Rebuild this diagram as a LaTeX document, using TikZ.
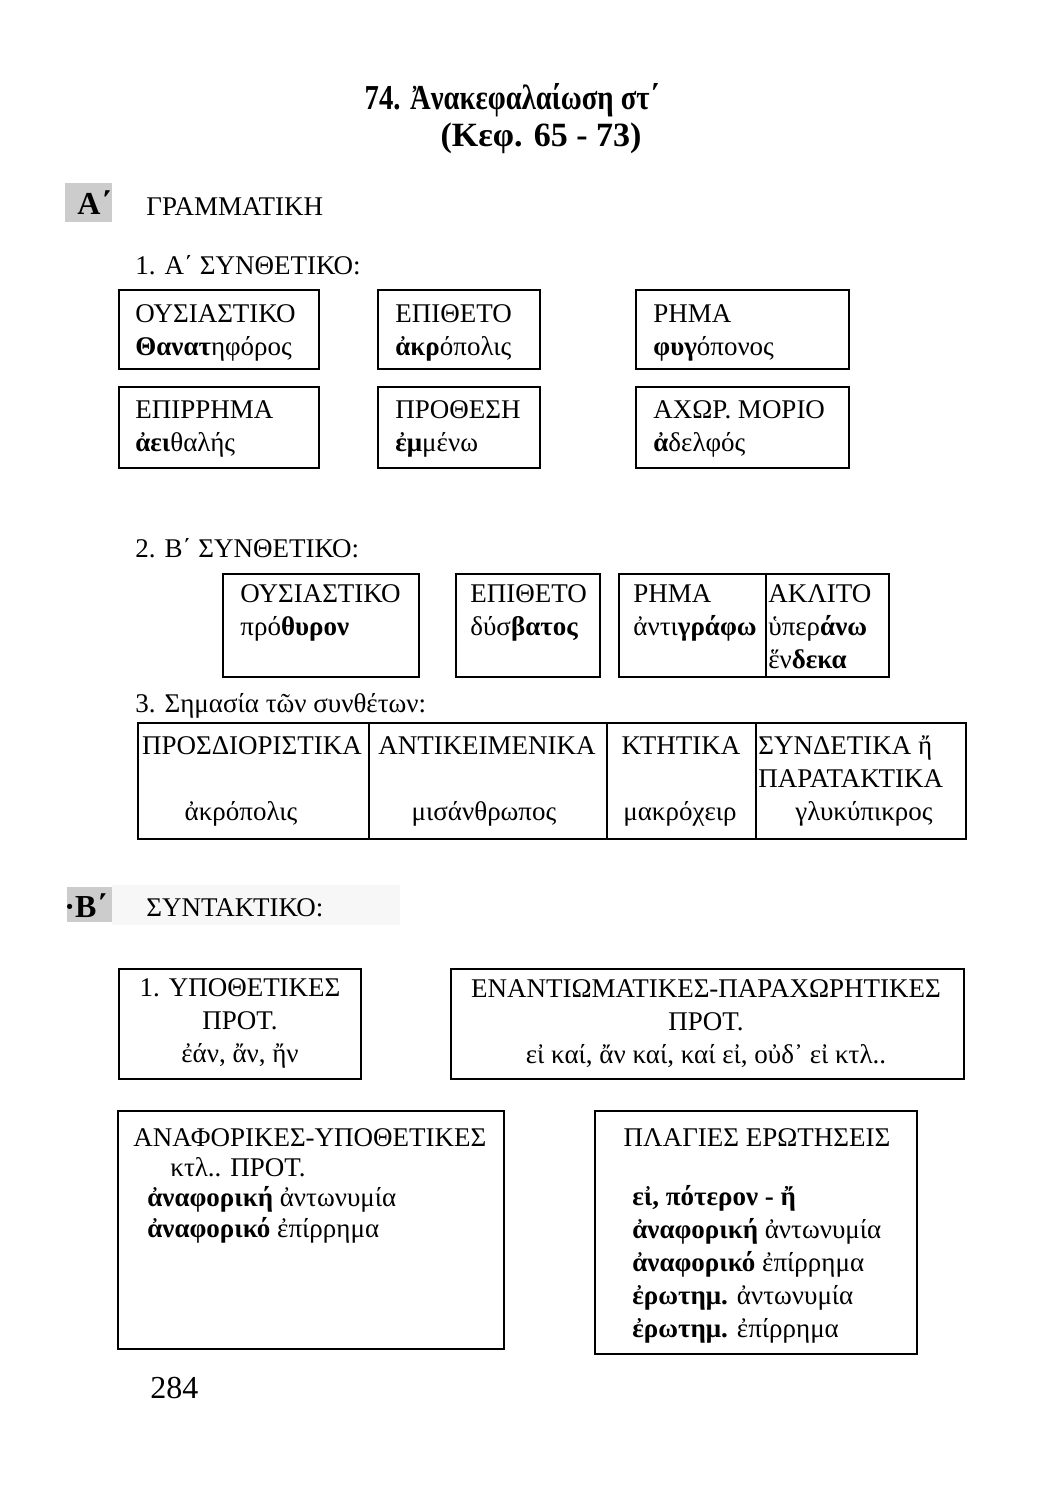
\documentclass[tikz,border=0pt]{standalone}
\usepackage{fontspec}
\setmainfont{Liberation Serif}
\newfontfamily\titlefont[FakeStretch=0.82]{Liberation Serif}
\usetikzlibrary{positioning}

\begin{document}
\begin{tikzpicture}[x=0.5pt,y=-0.5pt,
  font=\fontsize{13.5}{16.5}\selectfont,
  frame/.style={draw, line width=1pt, anchor=north west, inner sep=0pt},
  txt/.style={anchor=base west, align=left, inner sep=0pt},
  ctxt/.style={anchor=base, align=center, inner sep=0pt},
  head/.style={font=\titlefont\bfseries\fontsize{17.5}{19}\selectfont, anchor=base, inner sep=0pt},
  tag/.style={fill=black!20, anchor=north west, inner sep=0pt}]
\fill[white] (0,0) rectangle (1054,1500);
\useasboundingbox (0,0) rectangle (1054,1500);

% title (multi-line nodes below sit on the baseline of their last line)
\node[head] (ttl) at (512,109) {74. Ἀνακεφαλαίωση στ΄};
\node[head, font=\bfseries\fontsize{17}{19}\selectfont] (sub) at (541,146) {(Κεφ. 65 - 73)};

% A' grammar
\node[tag, minimum width=23.5pt, minimum height=19.5pt] (tagA) at (65,183) {};
\node[txt, font=\bfseries\fontsize{16}{18}\selectfont] (letA) at (77,214) {Α΄};
\node[txt] (gram) at (146,215) {ΓΡΑΜΜΑΤΙΚΗ};
\node[txt] (sec1) at (135,274) {1. Α΄ ΣΥΝΘΕΤΙΚΟ:};

\node[frame, minimum width=100pt, minimum height=39.5pt] (ous1) at (118,289) {};
\node[frame, minimum width=81pt, minimum height=39.5pt] (epi1) at (377,289) {};
\node[frame, minimum width=106.5pt, minimum height=39.5pt] (rim1) at (635,289) {};
\node[frame, minimum width=100pt, minimum height=40.5pt] (epir) at (118,386) {};
\node[frame, minimum width=81pt, minimum height=40.5pt] (prot) at (377,386) {};
\node[frame, minimum width=106.5pt, minimum height=40.5pt] (axor) at (635,386) {};
\node[txt] (ous1T) at (135,355) {ΟΥΣΙΑΣΤΙΚΟ\\\textbf{Θανατ}ηφόρος};
\node[txt] (epi1T) at (395,355) {ΕΠΙΘΕΤΟ\\\textbf{ἀκρ}όπολις};
\node[txt] (rim1T) at (653,355) {ΡΗΜΑ\\\textbf{φυγ}όπονος};
\node[txt] (epirT) at (135,451) {ΕΠΙΡΡΗΜΑ\\\textbf{ἀει}θαλής};
\node[txt] (protT) at (395,451) {ΠΡΟΘΕΣΗ\\\textbf{ἐμ}μένω};
\node[txt] (axorT) at (653,451) {ΑΧΩΡ. ΜΟΡΙΟ\\\textbf{ἀ}δελφός};

% B' compound part
\node[txt] (sec2) at (135,557) {2. Β΄ ΣΥΝΘΕΤΙΚΟ:};
\node[frame, minimum width=98pt, minimum height=51.5pt] (ous2) at (222,573) {};
\node[frame, minimum width=72pt, minimum height=51.5pt] (epi2) at (455,573) {};
\node[frame, minimum width=73.5pt, minimum height=51.5pt] (rim2) at (618,573) {};
\node[frame, minimum width=61.5pt, minimum height=51.5pt] (akl2) at (765,573) {};
\node[txt] (ous2T) at (240,635) {ΟΥΣΙΑΣΤΙΚΟ\\πρό\textbf{θυρον}};
\node[txt] (epi2T) at (470,635) {ΕΠΙΘΕΤΟ\\δύσ\textbf{βατος}};
\node[txt] (rim2T) at (633,635) {ΡΗΜΑ\\ἀντι\textbf{γράφω}};
\node[txt] (akl2T) at (768,668) {ΑΚΛΙΤΟ\\ὑπερ\textbf{άνω}\\ἕν\textbf{δεκα}};

% meaning table
\node[txt] (sec3) at (135,712) {3. Σημασία τῶν συνθέτων:};
\node[frame, minimum width=115.5pt, minimum height=58pt] (cpro) at (137,722) {};
\node[frame, minimum width=119pt, minimum height=58pt] (cant) at (368,722) {};
\node[frame, minimum width=74.5pt, minimum height=58pt] (ckti) at (606,722) {};
\node[frame, minimum width=105pt, minimum height=58pt] (csyn) at (755,722) {};
\node[ctxt] (cproH) at (252,754) {ΠΡΟΣΔΙΟΡΙΣΤΙΚΑ};
\node[ctxt] (cantH) at (487,754) {ΑΝΤΙΚΕΙΜΕΝΙΚΑ};
\node[ctxt] (cktiH) at (681,754) {ΚΤΗΤΙΚΑ};
\node[txt] (csynH) at (758,787) {ΣΥΝΔΕΤΙΚΑ ἤ\\ΠΑΡΑΤΑΚΤΙΚΑ};
\node[ctxt] (cproW) at (241,820) {ἀκρόπολις};
\node[ctxt] (cantW) at (484,820) {μισάνθρωπος};
\node[ctxt] (cktiW) at (680,820) {μακρόχειρ};
\node[ctxt] (csynW) at (864,820) {γλυκύπικρος};

% B' syntax
\node[tag, minimum width=22.5pt, minimum height=17.5pt] (tagB) at (67,887) {};
\node[fill=black!3, anchor=north west, inner sep=0pt, minimum width=144pt, minimum height=20pt] (band) at (112,885) {};
\node[txt, font=\bfseries\fontsize{16}{18}\selectfont] (letB) at (64,917) {·Β΄};
\node[txt] (synt) at (146,916) {ΣΥΝΤΑΚΤΙΚΟ:};

\node[frame, minimum width=121pt, minimum height=55pt] (ypo) at (118,968) {};
\node[frame, minimum width=256.5pt, minimum height=55pt] (enan) at (450,968) {};
\node[frame, minimum width=193pt, minimum height=119pt] (anaf) at (117,1110) {};
\node[frame, minimum width=161pt, minimum height=121.5pt] (plag) at (594,1110) {};
\node[ctxt] (ypoT) at (240,1062) {1. ΥΠΟΘΕΤΙΚΕΣ\\ΠΡΟΤ.\\ἐάν, ἄν, ἤν};
\node[ctxt] (enanT) at (706,1063) {ΕΝΑΝΤΙΩΜΑΤΙΚΕΣ-ΠΑΡΑΧΩΡΗΤΙΚΕΣ\\ΠΡΟΤ.\\εἰ καί, ἄν καί, καί εἰ, οὐδ᾿ εἰ κτλ..};
\node[txt] (anafH) at (133,1146) {ΑΝΑΦΟΡΙΚΕΣ-ΥΠΟΘΕΤΙΚΕΣ};
\node[txt] (anafP) at (170,1176) {κτλ.. ΠΡΟΤ.};
\node[txt, font=\fontsize{13.5}{15.5}\selectfont] (anafT) at (147,1237) {\textbf{ἀναφορική} ἀντωνυμία\\\textbf{ἀναφορικό} ἐπίρρημα};
\node[ctxt] (plagH) at (757,1146) {ΠΛΑΓΙΕΣ ΕΡΩΤΗΣΕΙΣ};
\node[txt] (plagT) at (632,1337) {\textbf{εἰ, πότερον - ἤ}\\\textbf{ἀναφορική} ἀντωνυμία\\\textbf{ἀναφορικό} ἐπίρρημα\\\textbf{ἐρωτημ.} ἀντωνυμία\\\textbf{ἐρωτημ.} ἐπίρρημα};

% page number
\node[txt, font=\fontsize{16}{18}\selectfont] (page) at (150,1398) {284};
\end{tikzpicture}
\end{document}
